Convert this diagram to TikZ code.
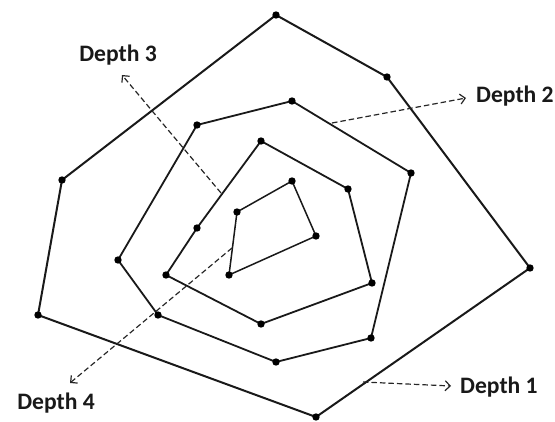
\documentclass[tikz,border=0pt]{standalone}
\usepackage{fontspec}
\setmainfont{Carlito}
\usetikzlibrary{arrows.meta}
\begin{document}
\begin{tikzpicture}[x=1pt,y=-1pt,
  poly/.style={line width=1.8pt, line join=miter, black!90},
  dot/.style={fill=black, draw=none},
  darrow/.style={dashed, dash pattern=on 5.5pt off 3pt, line width=1.2pt, black!85, -{Straight Barb[length=5pt,width=10pt,line width=1.2pt]}},
  lbl/.style={font=\fontsize{23.6}{28}\selectfont\bfseries, inner sep=0pt, black!90}]
\useasboundingbox (0,0) rectangle (555,422);
% Depth 1
\coordinate (a1) at (276,15);
\coordinate (a2) at (387,77);
\coordinate (a3) at (530,268);
\coordinate (a4) at (316,417);
\coordinate (a5) at (38,315);
\coordinate (a6) at (62,180);
% Depth 2
\coordinate (b1) at (292,101);
\coordinate (b2) at (411,173);
\coordinate (b3) at (371,338);
\coordinate (b4) at (276,362);
\coordinate (b5) at (158,315);
\coordinate (b6) at (118,260);
\coordinate (b7) at (197,125);
% Depth 3
\coordinate (c1) at (261,141);
\coordinate (c2) at (348,189);
\coordinate (c3) at (372,283);
\coordinate (c4) at (261,324);
\coordinate (c5) at (166,275);
\coordinate (c6) at (197,228);
% Depth 4
\coordinate (d1) at (292,181);
\coordinate (d2) at (316,236);
\coordinate (d3) at (229,275);
\coordinate (d4) at (237,212);

\draw[poly, line width=2pt] (a1) -- (a2) -- (a3) -- (a4) -- (a5) -- (a6) -- cycle;
\draw[poly] (b1) -- (b2) -- (b3) -- (b4) -- (b5) -- (b6) -- (b7) -- cycle;
\draw[poly] (c1) -- (c2) -- (c3) -- (c4) -- (c5) -- (c6) -- cycle;
\draw[poly, line width=1.5pt] (d1) -- (d2) -- (d3) -- (d4) -- cycle;

\foreach \p in {a1,a2,a3,a4,a5,a6,b1,b2,b3,b4,b5,b6,b7,c1,c2,c3,c4,c5,c6,d1,d2,d3,d4}
  \fill[dot] (\p) circle (3.7pt);

% labels
\node[lbl] (t3) at (118,55) {Depth 3};
\node[lbl, anchor=west] (t2) at (476,96) {Depth 2};
\node[lbl, anchor=west] (t1) at (460,387) {Depth 1};
\node[lbl] (t4) at (56,403) {Depth 4};

% arrows
\coordinate (s3) at (221,193);
\coordinate (e3) at (122,75);
\coordinate (s2) at (332,123);
\coordinate (e2) at (466,98);
\coordinate (s1) at (363,382);
\coordinate (e1) at (451,386);
\coordinate (s4) at (232,248);
\coordinate (e4) at (70,383);
\draw[darrow] (s3) -- (e3);
\draw[darrow] (s2) -- (e2);
\draw[darrow] (s1) -- (e1);
\draw[darrow] (s4) -- (e4);
\end{tikzpicture}
\end{document}
